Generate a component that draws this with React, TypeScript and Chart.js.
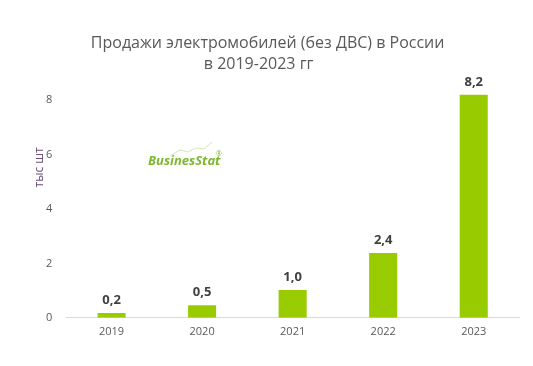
import React, { useEffect, useRef } from "react";
import { Chart, registerables } from "chart.js";

Chart.register(...registerables);

const years = ["2019", "2020", "2021", "2022", "2023"];
const sales = [0.18, 0.46, 1.02, 2.38, 8.2];
const valueLabels = ["0,2", "0,5", "1,0", "2,4", "8,2"];
const titleLines = ["Продажи электромобилей (без ДВС) в России", "в 2019-2023 гг"];
const yTitle = "тыс шт";
const yTicks = [0, 2, 4, 6, 8];

const FONT = "'Open Sans', 'Liberation Sans', sans-serif";

const decorPlugin = {
  id: "decor",
  afterDraw(chart: any) {
    const ctx = chart.ctx;
    const area = chart.chartArea;
    ctx.save();
    // title
    ctx.fillStyle = "#595959";
    ctx.font = `16px ${FONT}`;
    ctx.textAlign = "center";
    ctx.textBaseline = "middle";
    const cx = (area.left + area.right) / 2 - 25;
    ctx.fillText(titleLines[0], cx, 43);
    ctx.fillText(titleLines[1], cx - 9, 64);
    // y title
    ctx.save();
    ctx.translate(40, (area.top + area.bottom) / 2 - 28);
    ctx.rotate(-Math.PI / 2);
    ctx.fillStyle = "#6b4f78";
    ctx.font = `12px ${FONT}`;
    ctx.fillText(yTitle, 0, 0);
    ctx.restore();
    // data labels
    const meta = chart.getDatasetMeta(0);
    ctx.fillStyle = "#404040";
    ctx.font = `bold 13px ${FONT}`;
    ctx.textBaseline = "bottom";
    meta.data.forEach((bar: any, i: number) => {
      ctx.fillText(valueLabels[i], bar.x, bar.y - 6);
    });
    // logo
    ctx.textAlign = "left";
    ctx.textBaseline = "middle";
    ctx.fillStyle = "#7cb82f";
    ctx.font = `italic bold 13px ${FONT}`;
    ctx.fillText("BusinesStat", 148, 161);
    ctx.font = `7px ${FONT}`;
    ctx.fillText("®", 216, 154);
    ctx.strokeStyle = "#c8e0a8";
    ctx.lineWidth = 0.8;
    ctx.beginPath();
    ctx.moveTo(170, 156);
    ctx.lineTo(180, 150);
    ctx.lineTo(188, 152);
    ctx.lineTo(196, 148);
    ctx.lineTo(204, 149);
    ctx.lineTo(212, 142);
    ctx.stroke();
    ctx.restore();
  },
};

export default function App() {
  const ref = useRef<HTMLCanvasElement>(null);
  useEffect(() => {
    if (!ref.current) return;
    const chart = new Chart(ref.current, {
      type: "bar",
      data: {
        labels: years,
        datasets: [
          {
            data: sales,
            backgroundColor: "#99cc00",
            barPercentage: 0.31,
            categoryPercentage: 1,
          },
        ],
      },
      options: {
        animation: false,
        responsive: false,
        layout: { padding: { left: 32, right: 14, top: 73, bottom: 21 } },
        plugins: { legend: { display: false }, tooltip: { enabled: false }, title: { display: false } },
        scales: {
          x: {
            grid: { display: false, drawTicks: false },
            border: { display: true, color: "#d9d9d9", width: 1 },
            ticks: { color: "#595959", font: { size: 11, family: FONT }, padding: 7 },
          },
          y: {
            min: 0,
            max: 9,
            afterBuildTicks: (scale: any) => {
              scale.ticks = yTicks.map((v) => ({ value: v }));
            },
            grid: { display: false, drawTicks: false },
            border: { display: false },
            ticks: { color: "#595959", font: { size: 11, family: FONT }, padding: 14 },
          },
        },
      },
      plugins: [decorPlugin],
    });
    return () => chart.destroy();
  }, []);
  return (
    <div style={{ position: "fixed", left: 0, top: 0, width: 533, height: 366, background: "#fff" }}>
      <canvas ref={ref} width={533} height={366} />
    </div>
  );
}
